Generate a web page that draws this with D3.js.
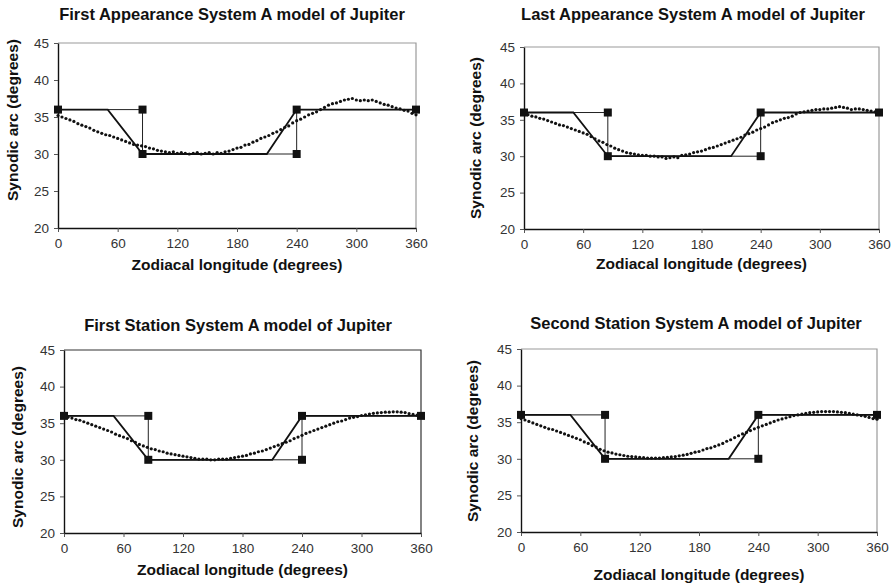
<!DOCTYPE html>
<html lang="en">
<head>
  <meta charset="utf-8">
  <script src="https://d3js.org/d3.v7.min.js"></script>
  <style>
    body { margin: 0; background: #fff; }
    svg { display: block; font-family: "Liberation Sans", Arial, sans-serif; }
  </style>
</head>
<body>
<svg width="894" height="584"></svg>
<script>
// ---- data ----
var titles = [
  "First Appearance System A model of Jupiter",
  "Last Appearance System A model of Jupiter",
  "First Station System A model of Jupiter",
  "Second Station System A model of Jupiter"
];
var xTicks = [0, 60, 120, 180, 240, 300, 360];
var yTicks = [20, 25, 30, 35, 40, 45];

// step model (with square markers)
var stepX = [0, 85, 85, 240, 240, 360];
var stepY = [36, 36, 30, 30, 36, 36];
// smoothed (trapezoid) model
var trapX = [0, 50, 85, 210, 240, 360];
var trapY = [36, 36, 30, 30, 36, 36];

// longitudes of the dotted series
var lon = [0,4,8,12,16,20,24,28,32,36,40,44,48,52,56,60,64,68,72,76,80,84,88,92,96,
  100,104,108,112,116,120,124,128,132,136,140,144,148,152,156,160,164,168,172,176,
  180,184,188,192,196,200,204,208,212,216,220,224,228,232,236,240,244,248,252,256,
  260,264,268,272,276,280,284,288,292,296,300,304,308,312,316,320,324,328,332,336,
  340,344,348,352,356,360];

var firstAppearance = [35.2,35.0,34.8,34.6,34.4,34.1,33.9,33.7,33.5,33.2,33.0,32.8,32.6,32.5,32.3,
  32.1,31.9,31.7,31.5,31.3,31.2,31.1,31.0,30.8,30.7,30.5,30.4,30.3,30.2,30.3,30.1,30.2,30.1,30.0,
  30.1,30.2,30.0,30.1,30.2,30.0,30.2,30.1,30.3,30.4,30.6,30.8,30.9,31.2,31.3,31.6,31.8,32.1,32.3,
  32.5,32.8,33.0,33.3,33.6,33.8,34.2,34.5,34.7,35.0,35.3,35.5,35.7,36.0,36.3,36.6,36.8,36.9,37.1,
  37.3,37.4,37.5,37.3,37.2,37.3,37.2,37.3,37.1,36.9,36.7,36.6,36.4,36.2,36.1,35.9,35.8,35.5,35.3];

var lastAppearance = [35.9,35.7,35.5,35.4,35.2,35.1,34.9,34.7,34.5,34.3,34.2,34.0,33.8,33.6,33.4,
  33.2,33.0,32.7,32.4,32.1,31.9,31.6,31.4,31.1,30.9,30.7,30.5,30.4,30.3,30.2,30.1,30.1,30.0,30.0,
  29.9,29.9,29.7,29.8,29.9,29.8,30.1,30.2,30.3,30.5,30.6,30.7,30.9,31.1,31.2,31.4,31.6,31.8,32.0,
  32.2,32.4,32.6,32.9,33.1,33.3,33.6,33.8,34.0,34.3,34.6,34.8,35.0,35.2,35.3,35.5,35.8,36.0,36.1,
  36.2,36.3,36.4,36.4,36.5,36.5,36.6,36.7,36.8,36.7,36.6,36.4,36.5,36.5,36.4,36.3,36.2,36.1,36.0];

var firstStation = [36.0,35.8,35.7,35.5,35.4,35.2,35.0,34.8,34.6,34.4,34.2,34.0,33.8,33.5,33.3,
  33.1,32.9,32.6,32.4,32.1,31.9,31.7,31.5,31.4,31.2,31.1,30.9,30.8,30.7,30.6,30.5,30.4,30.3,30.2,
  30.1,30.1,30.1,30.0,30.0,30.1,30.1,30.1,30.2,30.3,30.4,30.5,30.6,30.8,30.9,31.1,31.2,31.4,31.6,
  31.8,32.0,32.2,32.4,32.6,32.9,33.1,33.35,33.6,33.8,34.0,34.2,34.4,34.6,34.8,35.0,35.2,35.3,35.5,
  35.7,35.8,35.9,36.05,36.15,36.25,36.35,36.4,36.45,36.5,36.5,36.55,36.55,36.5,36.45,36.3,36.2,36.1,36.0];

var secondStation = [35.5,35.3,35.1,34.9,34.7,34.5,34.3,34.1,34.0,33.8,33.6,33.4,33.2,33.0,32.8,
  32.6,32.3,32.1,31.8,31.6,31.3,31.1,30.9,30.8,30.65,30.55,30.45,30.35,30.3,30.25,30.2,30.15,30.1,
  30.1,30.1,30.1,30.15,30.2,30.25,30.3,30.4,30.5,30.6,30.75,30.9,31.0,31.2,31.4,31.5,31.7,31.9,
  32.1,32.4,32.6,32.9,33.15,33.4,33.6,33.85,34.1,34.3,34.5,34.7,34.9,35.1,35.3,35.45,35.6,35.75,
  35.9,36.0,36.1,36.2,36.3,36.35,36.4,36.45,36.45,36.45,36.45,36.4,36.35,36.3,36.2,36.1,36.0,35.9,
  35.8,35.65,35.5,35.4];

var series = [firstAppearance, lastAppearance, firstStation, secondStation];

// ---- layout of the four panels ----
var panels = [
  { left: 58,  top: 43,  right: 416, bottom: 228, titleX: 232, titleY: 20,  xLabY: 270, yLabX: 18,  yLabY: 120, frame: "#9a9a9a" },
  { left: 524, top: 47,  right: 879, bottom: 229, titleX: 693, titleY: 20,  xLabY: 269, yLabX: 481, yLabY: 138, frame: "#9a9a9a" },
  { left: 64,  top: 350, right: 421, bottom: 533, titleX: 238, titleY: 331, xLabY: 575, yLabX: 23,  yLabY: 447, frame: "#333" },
  { left: 521, top: 349, right: 877, bottom: 532, titleX: 696, titleY: 329, xLabY: 580, yLabX: 478, yLabY: 441, frame: "#9a9a9a" }
];

var svg = d3.select("svg");

panels.forEach(function(p, i) {
  var x = d3.scaleLinear().domain([0, 360]).range([p.left, p.right]);
  var y = d3.scaleLinear().domain([20, 45]).range([p.bottom, p.top]);
  var g = svg.append("g");

  // frame (top / right)
  g.append("path")
    .attr("d", "M" + p.left + "," + p.top + "H" + p.right + "V" + p.bottom)
    .attr("fill", "none")
    .attr("stroke", p.frame)
    .attr("stroke-width", 1.2);

  // axes
  var xa = g.append("g")
    .attr("transform", "translate(0," + p.bottom + ")")
    .call(d3.axisBottom(x).tickValues(xTicks).tickSize(4).tickPadding(6).tickSizeOuter(0));
  var ya = g.append("g")
    .attr("transform", "translate(" + p.left + ",0)")
    .call(d3.axisLeft(y).tickValues(yTicks).tickSize(4).tickPadding(5).tickSizeOuter(0));
  [xa, ya].forEach(function(a) {
    a.select(".domain").attr("stroke", "#111").attr("stroke-width", 1.4);
    a.selectAll(".tick line").attr("stroke", "#555");
    a.selectAll(".tick text")
      .attr("font-size", "13.5px")
      .attr("font-family", "Liberation Sans, Arial, sans-serif")
      .attr("fill", "#333");
  });

  // step model
  var stepData = d3.zip(stepX, stepY);
  g.append("path")
    .datum(stepData)
    .attr("fill", "none")
    .attr("stroke", "#222")
    .attr("stroke-width", 1)
    .attr("d", d3.line().x(function(d) { return x(d[0]); }).y(function(d) { return y(d[1]); }));

  // trapezoid model
  g.append("path")
    .datum(d3.zip(trapX, trapY))
    .attr("fill", "none")
    .attr("stroke", "#111")
    .attr("stroke-width", 1.8)
    .attr("d", d3.line().x(function(d) { return x(d[0]); }).y(function(d) { return y(d[1]); }));

  // dotted series
  g.selectAll("circle.dot")
    .data(d3.zip(lon, series[i]))
    .enter().append("circle")
    .attr("class", "dot")
    .attr("cx", function(d) { return x(d[0]); })
    .attr("cy", function(d) { return y(d[1]); })
    .attr("r", 1.6)
    .attr("fill", "#111");

  // square markers
  g.selectAll("rect.mk")
    .data(stepData)
    .enter().append("rect")
    .attr("class", "mk")
    .attr("x", function(d) { return x(d[0]) - 4; })
    .attr("y", function(d) { return y(d[1]) - 4; })
    .attr("width", 8)
    .attr("height", 8)
    .attr("fill", "#111");

  // texts
  g.append("text")
    .attr("x", p.titleX).attr("y", p.titleY)
    .attr("text-anchor", "middle")
    .attr("font-size", "16.5px").attr("font-weight", "bold")
    .attr("fill", "#111")
    .text(titles[i]);
  g.append("text")
    .attr("x", (p.left + p.right) / 2).attr("y", p.xLabY)
    .attr("text-anchor", "middle")
    .attr("font-size", "15.5px").attr("font-weight", "bold")
    .attr("fill", "#111")
    .text("Zodiacal longitude (degrees)");
  g.append("text")
    .attr("transform", "translate(" + p.yLabX + "," + p.yLabY + ") rotate(-90)")
    .attr("text-anchor", "middle")
    .attr("font-size", "15.5px").attr("font-weight", "bold")
    .attr("fill", "#111")
    .text("Synodic arc (degrees)");
});
</script>
</body>
</html>
